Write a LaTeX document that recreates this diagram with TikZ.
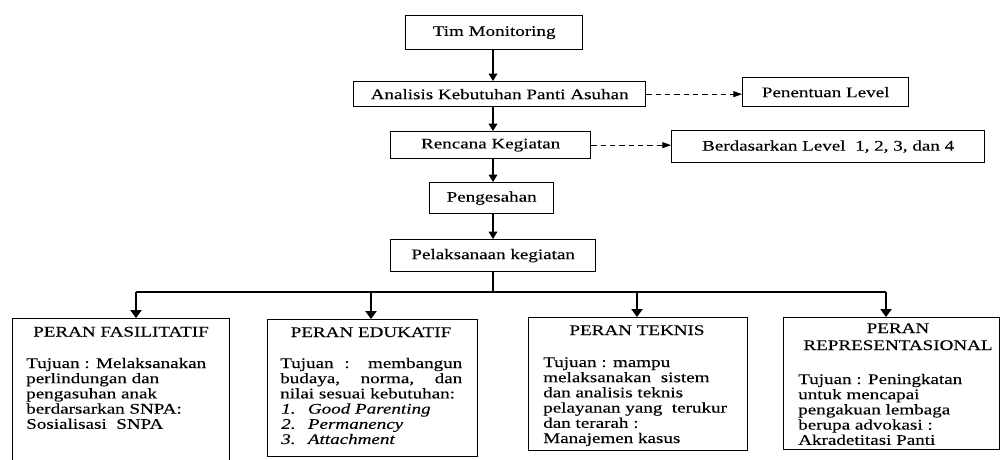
\documentclass[tikz,border=0pt]{standalone}
\usepackage{fontspec}
\setmainfont[FakeStretch=1.3,FakeBold=0.2,ItalicFont={Liberation Serif Italic},ItalicFeatures={FakeStretch=1.3,FakeBold=0.2}]{Liberation Serif}
\usetikzlibrary{arrows.meta}
\newcommand{\fs}{\fontsize{11pt}{11.4pt}\selectfont}
\begin{document}
\begin{tikzpicture}[x=0.75pt,y=-0.75pt,
  box/.style={draw,line width=1pt,inner sep=0pt,anchor=north west,font=\fs,align=center},
  arr/.style={line width=0.8pt,-{Triangle[length=5.5pt,width=6.5pt]}},
  arrb/.style={line width=0.8pt,-{Triangle[length=6pt,width=8.5pt]}},
  darr/.style={line width=0.7pt,dash pattern=on 4pt off 3pt,-{Triangle[length=6.5pt,width=4.5pt]}},
  ln/.style={line width=0.8pt},
  ttl/.style={anchor=base,inner sep=0pt,font=\fs,align=center},
  body/.style={anchor=base west,inner sep=0pt,font=\fs},
]
\useasboundingbox (0,0) rectangle (1001,460);
\clip (0,0) rectangle (1001,460);
\fill[white] (0,0) rectangle (1001,460);

% top chain
\node[box,minimum width=132.75pt,minimum height=25.5pt] (tim) at (405,15) {Tim Monitoring};
\node[box,minimum width=219pt,minimum height=18.75pt] (ana) at (353,81) {Analisis Kebutuhan Panti Asuhan};
\node[box,minimum width=124.5pt,minimum height=21.75pt] (pen) at (742,77) {Penentuan Level};
\node[box,minimum width=150pt,minimum height=20.25pt] (ren) at (390,131) {Rencana Kegiatan};
\node[box,minimum width=234.75pt,minimum height=24pt] (ber) at (671,130) {Berdasarkan Level\ \ 1, 2, 3, dan 4};
\node[box,minimum width=93pt,minimum height=23.25pt] (pge) at (429,182) {Pengesahan};
\node[box,minimum width=153.75pt,minimum height=24pt] (pel) at (390,239) {Pelaksanaan kegiatan};

\coordinate (spine) at (493,0);
\coordinate (bar) at (493,292);
\coordinate (c1) at (136,292);
\coordinate (c2) at (371,292);
\coordinate (c3) at (637,292);
\coordinate (c4) at (886,292);

\draw[arr] (spine |- tim.south) -- (spine |- ana.north);
\draw[arr] (spine |- ana.south) -- (spine |- ren.north);
\draw[arr] (spine |- ren.south) -- (spine |- pge.north);
\draw[arr] (spine |- pge.south) -- (spine |- pel.north);
\draw[darr] (ana.east) -- (ana.east -| pen.west);
\draw[darr] (ren.east) -- (ren.east -| ber.west);
\draw[ln] (spine |- pel.south) -- (bar);
\draw[ln] (c1) -- (c4);

% bottom boxes
\node[box,minimum width=162.75pt,minimum height=114pt] (f1) at (12,318) {};
\node[box,minimum width=157.5pt,minimum height=102.75pt] (f2) at (267,319) {};
\node[box,minimum width=164.25pt,minimum height=99.75pt] (f3) at (528,317) {};
\node[box,minimum width=162pt,minimum height=99pt] (f4) at (783,317) {};

\draw[arrb] (c1) -- (c1 |- f1.north);
\draw[arrb] (c2) -- (c2 |- f2.north);
\draw[arrb] (c3) -- (c3 |- f3.north);
\draw[arrb] (c4) -- (c4 |- f4.north);

% titles
\node[ttl] (t1) at (121,336.5) {PERAN FASILITATIF};
\node[ttl] (t2) at (371,337) {PERAN EDUKATIF};
\node[ttl] (t3) at (637,335) {PERAN TEKNIS};
\node[ttl] (t4a) at (898,333) {PERAN};
\node[ttl] (t4b) at (898,350) {REPRESENTASIONAL};

% bodies
\node[body] (b1) at (26,368) {\parbox[t]{150pt}{\raggedright
Tujuan : Melaksanakan\\
perlindungan dan\\
pengasuhan anak\\
berdarsarkan SNPA:\\
Sosialisasi\ \ SNPA}};

\node[body] (b2) at (280,368) {\parbox[t]{136.5pt}{\raggedright
\makebox[\linewidth][s]{Tujuan : membangun}\\
\makebox[\linewidth][s]{budaya, norma, dan}\\
nilai sesuai kebutuhan:\\
\hspace*{0.75pt}\makebox[20pt][l]{\itshape 1.}\textit{Good Parenting}\\
\hspace*{0.75pt}\makebox[20pt][l]{\itshape 2.}\textit{Permanency}\\
\hspace*{0.75pt}\makebox[20pt][l]{\itshape 3.}\textit{Attachment}}};

\node[body] (b3) at (543,367) {\parbox[t]{150pt}{\raggedright
Tujuan : mampu\\
melaksanakan\ \ sistem\\
dan analisis teknis\\
pelayanan yang\ \ terukur\\
dan terarah :\\
Manajemen kasus}};

\node[body] (b4) at (798,384) {\parbox[t]{150pt}{\raggedright
Tujuan : Peningkatan\\
untuk mencapai\\
pengakuan lembaga\\
berupa advokasi :\\
Akradetitasi Panti}};
\end{tikzpicture}
\end{document}
